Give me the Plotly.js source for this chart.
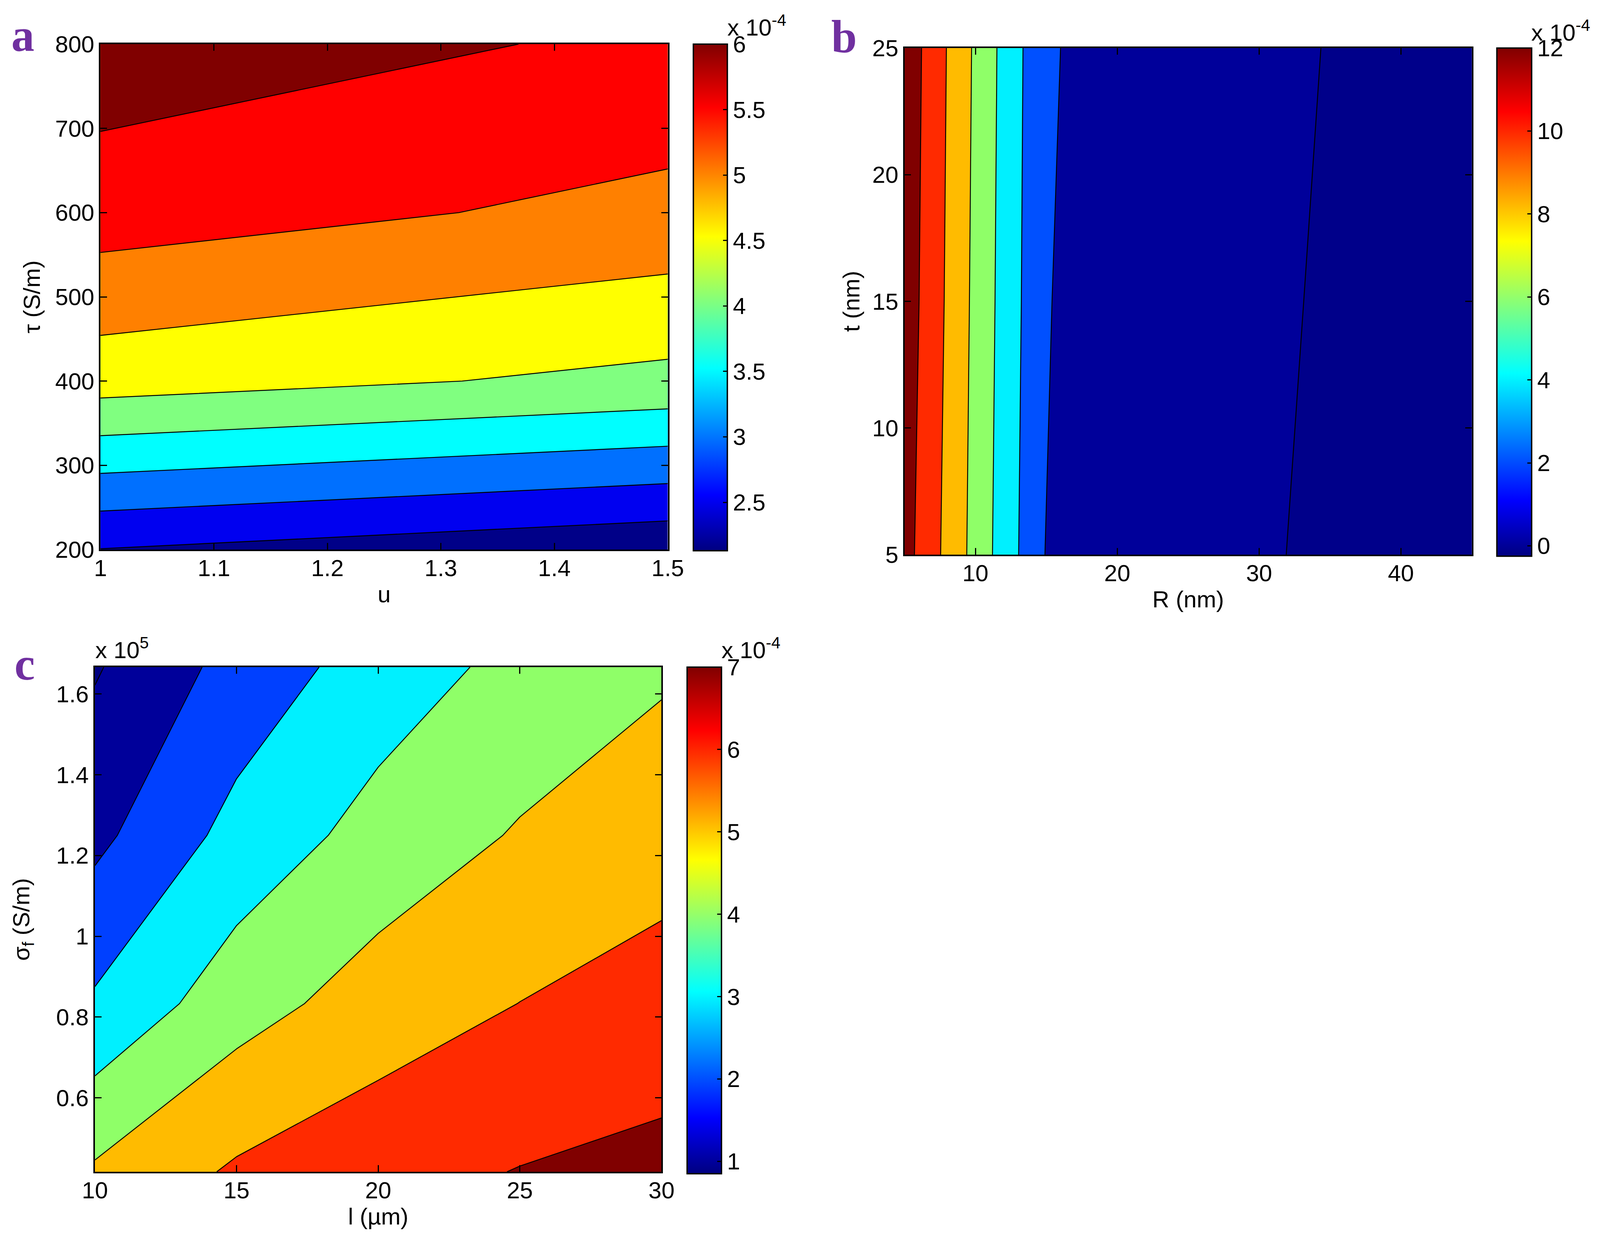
<!DOCTYPE html>
<html><head><meta charset="utf-8"><script src="https://cdn.plot.ly/plotly-3.0.1.min.js"></script>
<style>html,body{margin:0;padding:0;background:#fff;overflow:hidden}</style></head><body><div id="g"></div>
<script>
// ---- panel a
const aX=[1,1.5];
const aY=[200,400,600,800];
const aZ=[[2.489,2.116],[4.725,4.372],[5.74,5.36],[6.28,5.90]];
const aBands=['#000088','#0000f0','#0070ff','#00ffff','#80ff80','#ffff00','#ff8000','#ff0000','#800000'];
const aXTicks=[1,1.1,1.2,1.3,1.4,1.5];
const aXText=['1','1.1','1.2','1.3','1.4','1.5'];
const aYTicks=[200,300,400,500,600,700,800];
const aBarTicks=[2.5,3,3.5,4,4.5,5,5.5,6];
const aBarText=['2.5','3','3.5','4','4.5','5','5.5','6'];
// ---- panel b
const bX=[5,7,9,11,13,14.9,15.4,16,32,35,45];
const bY=[5,15,25];
const bZ=[
 [12.76,10.59,8.43,6.22,4.05,2.00,1.94,1.87,-0.01,-0.25,-0.30],
 [13.16,10.90,8.64,6.42,4.22,2.45,2.00,1.93,0.13,-0.21,-0.30],
 [13.37,11.09,8.80,6.60,4.27,2.82,2.45,2.00,0.257,-0.07,-0.25]];
const bBands=['#00008a','#00009a','#0050ff','#00f0ff','#8fff68','#ffbb00','#ff2a00','#800000'];
const bXTicks=[10,20,30,40];
const bYTicks=[5,10,15,20,25];
const bBarTicks=[0,2,4,6,8,10,12];
// ---- panel c
const cX=[10,15,20,25,30];
const cY=[0.4167,0.8333,1.25,1.6667];
const cZ=[
 [5.14,6.14,6.65,7.035,7.26],
 [3.14,4.58,5.455,6.01,6.448],
 [1.75,3.33,4.365,5.087,5.54],
 [0.91,2.35,3.465,4.29,4.87]];
const cBands=['#000080','#00009a','#0040ff','#00f0ff','#8fff68','#ffbb00','#ff2a00','#800000'];
const cXTicks=[10,15,20,25,30];
const cYTicks=[0.6,0.8,1,1.2,1.4,1.6];
const cYText=['0.6','0.8','1','1.2','1.4','1.6'];
const cBarTicks=[1,2,3,4,5,6,7];
// ---- shared
const jet=[[0,'#000080'],[0.11,'#0000ff'],[0.36,'#00ffff'],[0.62,'#ffff00'],[0.875,'#ff0000'],[1,'#800000']];
// positions below are measured on the 4332x3167 reference and kept as fractions of the page
const RW=4332,RH=3167;
const W=window.innerWidth||RW,H=window.innerHeight||RH,KX=W/RW,KY=H/RH;
const FONT='"Liberation Sans", Arial, sans-serif',FS=60,LW=3.5;
const band=c=>c.map((col,i)=>[i/(c.length-1),col]);
const dx=(l,r)=>[l/RW,r/RW], dy=(t,b)=>[1-b/RH,1-t/RH];

function panel(n,cfg){
  const xn='x'+(n>1?n:''), yn='y'+(n>1?n:'');
  const traces=[{type:'contour',x:cfg.x,y:cfg.y,z:cfg.z,xaxis:xn,yaxis:yn,autocontour:false,
      contours:{start:cfg.lv[0],end:cfg.lv[1],size:cfg.lv[2],coloring:'fill',showlines:true},
      colorscale:band(cfg.bands),showscale:false,line:{color:'#000',width:2.4,smoothing:0},hoverinfo:'skip'},
    {type:'scatter',mode:'markers',x:[cfg.x[0]],y:[cfg.y[0]],xaxis:xn,yaxis:yn,hoverinfo:'skip',showlegend:false,
      marker:{size:1,opacity:0,color:[cfg.bar[0]],cmin:cfg.bar[0],cmax:cfg.bar[1],colorscale:jet,showscale:true,
        colorbar:{x:cfg.barBox[0]/RW,xanchor:'left',xpad:0,ypad:0,thickness:(cfg.barBox[1]-cfg.barBox[0])*KX,thicknessmode:'pixels',
          len:(cfg.barBox[3]-cfg.barBox[2])*KY,lenmode:'pixels',y:1-cfg.barBox[2]/RH,yanchor:'top',
          outlinecolor:'#000',outlinewidth:LW,borderwidth:0,ticks:'inside',ticklen:12,tickwidth:3,tickcolor:'#000',
          tickmode:'array',tickvals:cfg.barTicks,ticktext:cfg.barText||cfg.barTicks.map(String),
          tickfont:{family:FONT,size:FS,color:'#000'}}}}];
  const common={showline:true,linecolor:'#000',linewidth:LW,mirror:'allticks',ticks:'inside',ticklen:17,tickwidth:3,tickcolor:'#000',
    showgrid:false,zeroline:false,tickfont:{family:FONT,size:FS,color:'#000'},tickmode:'array',automargin:false,layer:'above traces'};
  const ax={};
  ax['xaxis'+(n>1?n:'')]=Object.assign({},common,{domain:dx(cfg.box[0],cfg.box[1]),range:cfg.xr,anchor:yn,tickvals:cfg.xt,ticktext:cfg.xtt||cfg.xt.map(String),
    ticklabelstandoff:cfg.xso,title:{text:cfg.xtitle,standoff:cfg.xts,font:{family:FONT,size:FS,color:'#000'}}});
  ax['yaxis'+(n>1?n:'')]=Object.assign({},common,{domain:dy(cfg.box[2],cfg.box[3]),range:cfg.yr,anchor:xn,tickvals:cfg.yt,ticktext:cfg.ytt||cfg.yt.map(String),
    ticklabelstandoff:0,title:{text:cfg.ytitle,standoff:cfg.yts,font:{family:FONT,size:FS,color:'#000'}}});
  return {traces,ax};
}
const P=[
 panel(1,{x:aX,y:aY,z:aZ,lv:[2.5,6,0.5],bands:aBands,bar:[2.13,6],barBox:[1877,1969,113,1410],barTicks:aBarTicks,barText:aBarText,
   box:[272,1808,113,1407],xr:[1,1.5],yr:[200,800],xt:aXTicks,xtt:aXText,yt:aYTicks,xtitle:'u',ytitle:'τ (S/m)',xso:-8,xts:14,yts:20}),
 panel(2,{x:bX,y:bY,z:bZ,lv:[0,12,2],bands:bBands,bar:[-0.25,12],barBox:[4053,4147,123,1424],barTicks:bBarTicks,
   box:[2449,3985,123,1420],xr:[5,45],yr:[5,25],xt:bXTicks,yt:bYTicks,xtitle:'R (nm)',ytitle:'t (nm)',xso:-8,xts:14,yts:14}),
 panel(3,{x:cX,y:cY,z:cZ,lv:[1,7,1],bands:cBands,bar:[0.85,7],barBox:[1860,1953,1708,3005],barTicks:cBarTicks,
   box:[257,1791,1708,3000],xr:[10,30],yr:[0.4167,1.6667],xt:cXTicks,yt:cYTicks,ytt:cYText,xtitle:'l (µm)',ytitle:'σ<sub>f</sub> (S/m)',xso:-8,xts:14,yts:50})
];
const note=(t,px,py,size,extra)=>Object.assign({text:t,xref:'paper',yref:'paper',x:px/RW,y:1-py/RH,xanchor:'left',yanchor:'bottom',showarrow:false,borderpad:0,
  font:{family:FONT,size:size,color:'#000'}},extra||{});
const letter=(t,px,py)=>note(t,px,py,118,{font:{family:'"Liberation Serif", serif',size:118,color:'#7030a0'},text:'<b>'+t+'</b>'});
const layout=Object.assign({width:W,height:H,margin:{l:0,r:0,t:0,b:0},paper_bgcolor:'#fff',plot_bgcolor:'#fff',showlegend:false,
  annotations:[
    note('x 10<sup>-4</sup>',1968,105,FS),note('x 10<sup>-4</sup>',4145,118,FS),note('x 10<sup>-4</sup>',1952,1699,FS),note('x 10<sup>5</sup>',257,1699,FS),
    letter('a',30,157),letter('b',2250,160),letter('c',38,1767)]},
  P[0].ax,P[1].ax,P[2].ax);
Plotly.newPlot('g',[].concat(P[0].traces,P[1].traces,P[2].traces),layout,{displayModeBar:false,responsive:false});
</script></body></html>
